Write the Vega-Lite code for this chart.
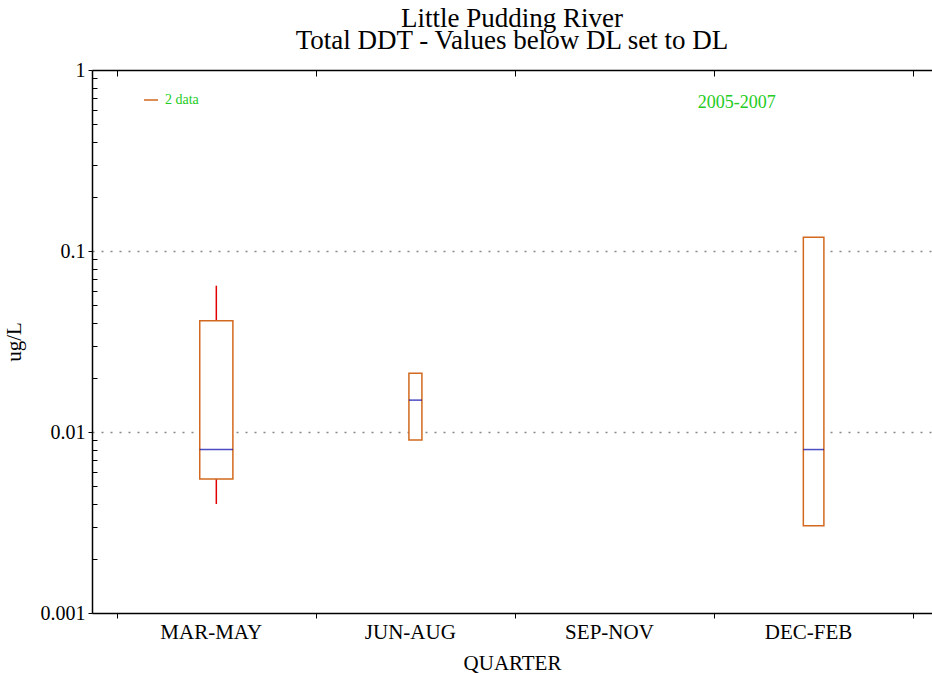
{
  "$schema": "https://vega.github.io/schema/vega-lite/v6.json",
  "width": 840,
  "height": 543,
  "autosize": "none",
  "padding": {"left": 92, "top": 70, "right": 0, "bottom": 60},
  "background": "white",
  "config": {
    "font": "Liberation Serif",
    "view": {"stroke": null},
    "axis": {
      "labelFont": "Liberation Serif",
      "titleFont": "Liberation Serif",
      "labelColor": "black",
      "titleColor": "black",
      "domainColor": "black",
      "tickColor": "black",
      "titleFontWeight": "normal",
      "labelFontSize": 20,
      "titleFontSize": 21
    }
  },
  "title": {
    "text": ["Little Pudding River", "Total DDT - Values below DL set to DL"],
    "font": "Liberation Serif",
    "fontSize": 27,
    "fontWeight": "normal",
    "color": "black",
    "anchor": "middle",
    "lineHeight": 22,
    "offset": 5
  },
  "datasets": {
    "boxes": [
      {"quarter": "MAR-MAY", "pos": 1, "n": 13, "min": 0.004, "q1": 0.0055, "median": 0.008, "q3": 0.0412, "max": 0.0643},
      {"quarter": "JUN-AUG", "pos": 2, "n": 2, "min": 0.00904, "q1": 0.00904, "median": 0.015, "q3": 0.0211, "max": 0.0211},
      {"quarter": "DEC-FEB", "pos": 4, "n": 5, "min": 0.00303, "q1": 0.00303, "median": 0.008, "q3": 0.119, "max": 0.119}
    ]
  },
  "resolve": {"axis": {"x": "independent", "y": "independent"}},
  "layer": [
    {
      "data": {"name": "boxes"},
      "mark": {"type": "rule", "color": "#e00000", "strokeWidth": 1.5},
      "encoding": {
        "x": {
          "field": "pos", "type": "quantitative",
          "scale": {"domain": [0.4007, 4.5695], "nice": false, "zero": false},
          "axis": {
            "orient": "bottom",
            "values": [0.5, 1.5, 2.5, 3.5, 4.5],
            "labelExpr": "datum.value == 0.5 ? 'MAR-MAY' : datum.value == 1.5 ? 'JUN-AUG' : datum.value == 2.5 ? 'SEP-NOV' : datum.value == 3.5 ? 'DEC-FEB' : ''",
            "labelOffset": 94,
            "labelOverlap": false,
            "labelBound": false,
            "labelFlush": false,
            "labelFontSize": 21,
            "labelPadding": 3,
            "tickSize": 5,
            "domainWidth": 1.5,
            "grid": false,
            "title": "QUARTER",
            "titlePadding": 10
          }
        },
        "y": {
          "field": "min", "type": "quantitative",
          "scale": {"type": "log", "domain": [0.001, 1], "nice": false},
          "axis": {
            "orient": "left",
            "values": [0.001, 0.01, 0.1, 1],
            "labelExpr": "datum.value >= 1 ? '1' : datum.value >= 0.1 ? '0.1' : datum.value >= 0.01 ? '0.01' : '0.001'",
            "tickSize": 4,
            "labelPadding": 3,
            "domainWidth": 1.5,
            "grid": true,
            "gridColor": "#888888",
            "gridDash": [2, 7],
            "gridWidth": 1.3,
            "gridOpacity": {"condition": {"test": "datum.value > 0.005 && datum.value < 0.5", "value": 1}, "value": 0},
            "title": "ug/L",
            "titlePadding": 16
          }
        },
        "y2": {"field": "max"}
      }
    },
    {
      "data": {"name": "boxes"},
      "mark": {"type": "bar", "fill": "white", "strokeWidth": 1.5},
      "encoding": {
        "x": {
          "field": "pos", "type": "quantitative",
          "axis": {
            "orient": "top",
            "values": [0.5, 1.5, 2.5, 3.5, 4.5],
            "labels": false,
            "tickSize": -6,
            "domainWidth": 1.5,
            "grid": false,
            "title": null
          }
        },
        "y": {
          "field": "q1", "type": "quantitative",
          "axis": {
            "orient": "left",
            "values": [0.002, 0.003, 0.004, 0.005, 0.006, 0.007, 0.008, 0.009, 0.02, 0.03, 0.04, 0.05, 0.06, 0.07, 0.08, 0.09, 0.2, 0.3, 0.4, 0.5, 0.6, 0.7, 0.8, 0.9],
            "labels": false,
            "domain": false,
            "tickSize": -5,
            "grid": false,
            "title": null
          }
        },
        "y2": {"field": "q3"},
        "size": {"field": "n", "type": "quantitative", "scale": {"type": "sqrt", "domain": [0, 2], "range": [0, 13]}, "legend": null},
        "stroke": {
          "datum": "2 data", "type": "nominal",
          "scale": {"range": ["#d2691e"]},
          "legend": {
            "orient": "none", "legendX": 51, "legendY": 22, "padding": 0,
            "title": null, "symbolType": "stroke", "symbolSize": 196, "symbolStrokeWidth": 1.5,
            "labelColor": "#22cc22", "labelFontSize": 14, "labelFont": "Liberation Serif", "labelOffset": 6
          }
        }
      }
    },
    {
      "data": {"name": "boxes"},
      "mark": {"type": "tick", "orient": "horizontal", "color": "#0000aa", "thickness": 1.5},
      "encoding": {
        "x": {"field": "pos", "type": "quantitative", "axis": null},
        "y": {"field": "median", "type": "quantitative", "axis": null},
        "size": {"field": "n", "type": "quantitative", "legend": null}
      }
    },
    {
      "data": {"values": [{"label": "2005-2007"}]},
      "mark": {"type": "text", "color": "#22cc22", "fontSize": 18, "font": "Liberation Serif", "align": "center", "baseline": "middle"},
      "encoding": {
        "x": {"datum": 3.614, "type": "quantitative", "axis": null},
        "y": {"datum": 0.657, "type": "quantitative", "axis": null},
        "text": {"field": "label"}
      }
    }
  ]
}
